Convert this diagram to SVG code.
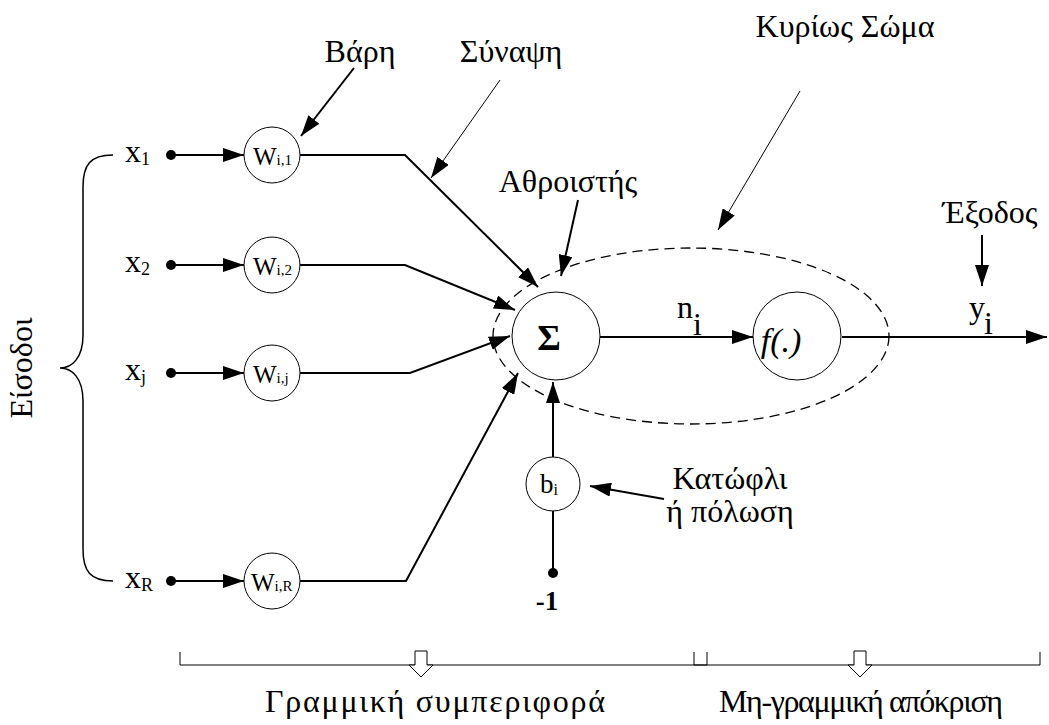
<svg xmlns="http://www.w3.org/2000/svg" width="1049" height="725" viewBox="0 0 1049 725">
  <style>
    .node { fill: #fff; stroke: #000; stroke-width: 1; }
    .wire { fill: none; stroke: #000; stroke-width: 2; }
    .thin { fill: none; stroke: #000; stroke-width: 1; }
    .arr { marker-end: url(#head); }
    .dot { fill: #000; }
  </style>
  <defs>
    <marker id="head" viewBox="0 0 21 14" refX="21" refY="7" markerWidth="21" markerHeight="14" markerUnits="userSpaceOnUse" orient="auto">
      <path d="M0,0 L21,7 L0,14 z" fill="#000"/>
    </marker>
  </defs>
  <rect width="1049" height="725" fill="#fff"/>

  <!-- connectors -->
  <g id="connectors">
    <line class="wire arr" x1="171" y1="155" x2="244" y2="155"/>
    <line class="wire arr" x1="171" y1="265" x2="244" y2="265"/>
    <line class="wire arr" x1="171" y1="373" x2="244" y2="373"/>
    <line class="wire arr" x1="171" y1="581" x2="244" y2="581"/>
    <polyline class="wire arr" points="300,155 405,155 538,287"/>
    <polyline class="wire arr" points="300,265 405,265 515,310"/>
    <polyline class="wire arr" points="300,373 410,373 510,336"/>
    <polyline class="wire arr" points="300,581 406,581 518,373"/>
    <line class="wire arr" x1="600" y1="337" x2="753" y2="337"/>
    <line class="wire arr" x1="842" y1="337" x2="1047" y2="337"/>
    <line class="wire arr" x1="553" y1="457" x2="553" y2="382"/>
    <line class="wire" x1="553" y1="511" x2="553" y2="573"/>
    <!-- annotation pointers -->
    <line class="wire arr" x1="354" y1="68" x2="301" y2="136"/>
    <line class="thin arr" x1="500" y1="80" x2="431" y2="178"/>
    <line class="wire arr" x1="578" y1="200" x2="561" y2="276"/>
    <line class="thin arr" x1="800" y1="91" x2="718" y2="230"/>
    <line class="wire arr" x1="982" y1="235" x2="982" y2="286"/>
    <line class="wire arr" x1="664" y1="499" x2="590" y2="486"/>
  </g>

  <!-- main body outline -->
  <ellipse id="body" cx="691" cy="336" rx="198" ry="88" fill="none" stroke="#000" stroke-width="1.3" stroke-dasharray="10,6"/>

  <!-- inputs -->
  <g id="inputs" font-family="Liberation Serif" font-size="32">
    <path d="M113,155 C90,155 83,165 83,187 L83,335 C83,358 72,368 60,368 C72,368 83,378 83,401 L83,549 C83,571 90,581 113,581" fill="none" stroke="#000" stroke-width="1.5"/>
    <text x="32" y="368" text-anchor="middle" transform="rotate(-90 32 368)">Είσοδοι</text>
    <g id="x1"><text x="125" y="162">x<tspan font-size="18" dy="3">1</tspan></text><circle class="dot" cx="171" cy="155" r="5"/></g>
    <g id="x2"><text x="125" y="272">x<tspan font-size="18" dy="3">2</tspan></text><circle class="dot" cx="171" cy="265" r="5"/></g>
    <g id="xj"><text x="125" y="380">x<tspan font-size="18" dy="3">j</tspan></text><circle class="dot" cx="171" cy="373" r="5"/></g>
    <g id="xR"><text x="125" y="588">x<tspan font-size="18" dy="3">R</tspan></text><circle class="dot" cx="171" cy="581" r="5"/></g>
  </g>

  <!-- weights -->
  <g font-family="Liberation Serif" font-size="25">
    <g id="w1"><circle class="node" cx="272" cy="155" r="28"/><text x="253" y="165">W<tspan font-size="15">i,1</tspan></text></g>
    <g id="w2"><circle class="node" cx="272" cy="265" r="28"/><text x="253" y="275">W<tspan font-size="15">i,2</tspan></text></g>
    <g id="wj"><circle class="node" cx="272" cy="373" r="28"/><text x="253" y="383">W<tspan font-size="15">i,j</tspan></text></g>
    <g id="wR"><circle class="node" cx="272" cy="581" r="28"/><text x="251" y="591">W<tspan font-size="15">i,R</tspan></text></g>
  </g>

  <g font-family="Liberation Serif" font-size="32">
    <!-- summing junction -->
    <g id="sum"><circle class="node" cx="556" cy="336" r="44"/><text x="549" y="350" font-size="36" font-weight="bold" text-anchor="middle">Σ</text></g>

    <!-- activation -->
    <g id="activation"><circle class="node" cx="797" cy="336" r="44"/><text x="781" y="352" font-size="34" font-style="italic" text-anchor="middle">f(.)</text></g>

    <!-- bias -->
    <g id="bias"><circle class="node" cx="553" cy="484" r="27"/><text x="540" y="493" font-size="27">b<tspan font-size="16" dy="2">i</tspan></text></g>
    <g id="minus-one"><circle class="dot" cx="553" cy="573" r="5"/><text x="547" y="610" font-size="27" font-weight="bold" text-anchor="middle">-1</text></g>

    <!-- signal labels -->
    <g id="net"><text x="677" y="318">n</text><text x="693" y="335">i</text></g>
    <g id="out"><text x="969" y="318">y</text><text x="984" y="334">i</text></g>

    <!-- annotations -->
    <g id="notes">
      <text x="360" y="62" text-anchor="middle">Βάρη</text>
      <text x="511" y="62" text-anchor="middle">Σύναψη</text>
      <text x="845" y="37" text-anchor="middle">Κυρίως Σώμα</text>
      <text x="568" y="192" text-anchor="middle">Αθροιστής</text>
      <text x="990" y="223" text-anchor="middle">Έξοδος</text>
      <text x="730" y="489" text-anchor="middle">Κατώφλι</text>
      <text x="730" y="522" text-anchor="middle">ή πόλωση</text>
    </g>

    <!-- behaviour brackets -->
    <g id="linear">
      <polyline class="thin" points="180,652 180,665 415,665"/>
      <polyline class="thin" points="427,665 707,665 707,652"/>
      <polygon points="415,651 427,651 427,665 433,665 421,677 409,665 415,665" fill="#fff" stroke="#000" stroke-width="1"/>
      <text x="435" y="712" text-anchor="middle" textLength="340" lengthAdjust="spacing">Γραμμική συμπεριφορά</text>
    </g>
    <g id="nonlinear">
      <polyline class="thin" points="694,652 694,665 854,665"/>
      <polyline class="thin" points="866,665 1040,665 1040,652"/>
      <polygon points="854,651 866,651 866,665 872,665 860,677 848,665 854,665" fill="#fff" stroke="#000" stroke-width="1"/>
      <text x="861" y="712" text-anchor="middle" textLength="284" lengthAdjust="spacing">Μη-γραμμική απόκριση</text>
    </g>
  </g>
</svg>
